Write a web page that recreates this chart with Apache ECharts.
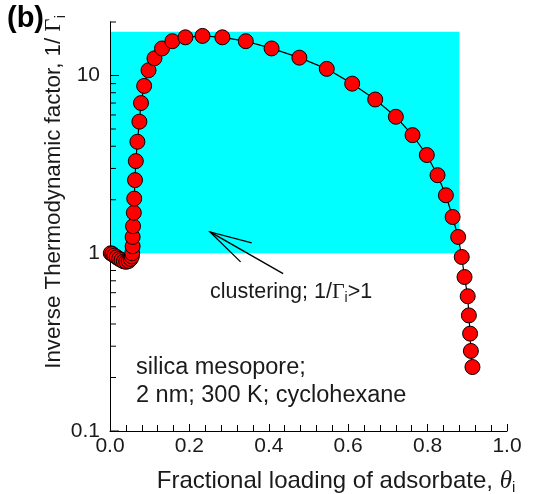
<!DOCTYPE html>
<html>
<head>
<meta charset="utf-8">
<script src="https://cdn.jsdelivr.net/npm/echarts@6/dist/echarts.min.js"></script>
<style>
html, body { margin: 0; padding: 0; background: #fff; }
#chart { width: 539px; height: 494px; }
</style>
</head>
<body>
<div id="chart"></div>
<script>
// fractional loading, theta_i
var loading = [0.002, 0.006, 0.011, 0.017, 0.023, 0.029, 0.035, 0.041, 0.047, 0.052, 0.055,
    0.056, 0.057, 0.057, 0.058, 0.060, 0.061, 0.063, 0.065, 0.069, 0.074, 0.078, 0.086,
    0.097, 0.112, 0.131, 0.157, 0.190, 0.233, 0.283, 0.342, 0.407, 0.477, 0.546, 0.610,
    0.668, 0.720, 0.762, 0.798, 0.825, 0.846, 0.863, 0.877, 0.886, 0.893, 0.901, 0.904,
    0.907, 0.909, 0.913];
// inverse thermodynamic factor, 1/Gamma_i
var invGamma = [1.00, 0.99, 0.97, 0.95, 0.93, 0.915, 0.90, 0.895, 0.905, 0.93, 0.96,
    1.00, 1.095, 1.235, 1.42, 1.69, 2.03, 2.58, 3.30, 4.24, 5.50, 7.0, 8.74,
    10.7, 12.5, 14.2, 15.6, 16.4, 16.7, 16.4, 15.6, 14.2, 12.6, 10.9, 9.0,
    7.33, 5.86, 4.62, 3.57, 2.75, 2.12, 1.60, 1.235, 0.953, 0.735, 0.573, 0.447,
    0.353, 0.282, 0.229];

var yMajorTicks = [0.1, 1, 10];
var yMinorTicks = [0.2, 0.3, 0.4, 0.5, 0.6, 0.7, 0.8, 0.9, 2, 3, 4, 5, 6, 7, 8, 9, 20];

// shaded clustering region (x0, y0, x1, y1)
var clusterBox = [0, 1, 0.88, 17.6];
// arrow: tail -> tip, and two barbs
var arrowShaft = [[0.436, 0.768], [0.252, 1.318]];
var arrowBarbs = [[0.357, 1.143], [0.252, 1.318], [0.329, 0.894]];

var FONT = 'Liberation Sans';
var chart = echarts.init(document.getElementById('chart'));

var points = loading.map(function (x, i) { return [x, invGamma[i]]; });
var tickData = yMajorTicks.map(function (v) { return [0, v, 1]; })
    .concat(yMinorTicks.map(function (v) { return [0, v, 0]; }));

var option = {
    animation: false,
    grid: { left: 110, right: 32, top: 22, bottom: 63 },
    xAxis: {
        type: 'value',
        min: 0,
        max: 1,
        interval: 0.2,
        z: 2,
        axisLine: { lineStyle: { color: '#000', width: 1 } },
        axisTick: { inside: true, length: 7, lineStyle: { color: '#000' } },
        minorTick: { show: true, splitNumber: 5, length: 6, lineStyle: { color: '#000' } },
        splitLine: { show: false },
        axisLabel: {
            fontFamily: FONT, fontSize: 21, color: '#1a1a1a', margin: 5,
            formatter: function (v) { return v.toFixed(1); }
        }
    },
    yAxis: {
        type: 'log',
        logBase: 10,
        min: 0.1,
        max: 20,
        z: 2,
        axisLine: { show: true, lineStyle: { color: '#000', width: 1 } },
        axisTick: { show: false },
        splitLine: { show: false },
        axisLabel: {
            fontFamily: FONT, fontSize: 21, color: '#1a1a1a', margin: 10,
            formatter: function (v) {
                var l = Math.log(v) / Math.LN10;
                var r = Math.round(l);
                if (Math.abs(l - r) > 1e-6) return '';
                return r < 0 ? Math.pow(10, r).toFixed(-r) : String(Math.pow(10, r));
            }
        }
    },
    series: [
        {
            type: 'custom',
            z: 1,
            silent: true,
            clip: false,
            data: [clusterBox],
            renderItem: function (params, api) {
                var p0 = api.coord([api.value(0), api.value(1)]);
                var p1 = api.coord([api.value(2), api.value(3)]);
                return {
                    type: 'rect',
                    shape: { x: p0[0], y: p1[1], width: p1[0] - p0[0], height: p0[1] - p1[1] },
                    style: { fill: '#00ffff' }
                };
            }
        },
        {
            type: 'custom',
            z: 4,
            silent: true,
            clip: false,
            data: tickData,
            renderItem: function (params, api) {
                var p = api.coord([api.value(0), api.value(1)]);
                var len = api.value(2) ? 9 : 6;
                return {
                    type: 'line',
                    shape: { x1: p[0], y1: p[1], x2: p[0] + len, y2: p[1] },
                    style: { stroke: '#000', lineWidth: 1 }
                };
            }
        },
        {
            type: 'custom',
            z: 4,
            silent: true,
            clip: false,
            data: [0, 1],
            renderItem: function (params, api) {
                var pts = (params.dataIndex === 0 ? arrowShaft : arrowBarbs).map(function (d) {
                    return api.coord(d);
                });
                return {
                    type: 'polyline',
                    shape: { points: pts },
                    style: { stroke: '#000', lineWidth: 1.3, fill: null }
                };
            }
        },
        {
            type: 'line',
            z: 5,
            data: points,
            symbol: 'circle',
            symbolSize: 15,
            itemStyle: { color: '#ff0000', borderColor: '#000', borderWidth: 1 },
            lineStyle: { color: '#000', width: 1.2 }
        }
    ],
    graphic: [
        {
            type: 'text', left: 7, top: 4,
            style: { text: '(b)', font: 'bold 29px ' + FONT, fill: '#000' }
        },
        {
            type: 'text', x: 54, y: 192, rotation: Math.PI / 2,
            style: {
                text: '{t|Inverse Thermodynamic factor, 1/ }{g|Γ}{s|i}',
                align: 'center', verticalAlign: 'middle',
                rich: {
                    t: { fontFamily: FONT, fontSize: 22.3, fill: '#1a1a1a' },
                    g: { fontFamily: 'Liberation Serif', fontSize: 23, fill: '#1a1a1a' },
                    s: { fontFamily: FONT, fontSize: 14, fill: '#1a1a1a', padding: [14, 0, 0, 0] }
                }
            }
        },
        {
            type: 'text', x: 336, y: 481,
            style: {
                text: '{t|Fractional loading of adsorbate, }{g|θ}{s|i}',
                align: 'center', verticalAlign: 'middle',
                rich: {
                    t: { fontFamily: FONT, fontSize: 24, fill: '#1a1a1a' },
                    g: { fontFamily: 'Liberation Serif', fontStyle: 'italic', fontSize: 25, fill: '#1a1a1a' },
                    s: { fontFamily: FONT, fontSize: 15, fill: '#1a1a1a', padding: [14, 0, 0, 0] }
                }
            }
        },
        {
            type: 'text', x: 210, y: 292,
            style: {
                text: '{t|clustering; 1/}{g|Γ}{s|i}{t|>1}',
                align: 'left', verticalAlign: 'middle',
                rich: {
                    t: { fontFamily: FONT, fontSize: 21.5, fill: '#1a1a1a' },
                    g: { fontFamily: 'Liberation Serif', fontSize: 22, fill: '#1a1a1a' },
                    s: { fontFamily: FONT, fontSize: 14, fill: '#1a1a1a', padding: [13, 0, 0, 0] }
                }
            }
        },
        {
            type: 'text', x: 136, y: 368,
            style: { text: 'silica mesopore;', font: '23.5px ' + FONT, fill: '#1a1a1a', verticalAlign: 'middle' }
        },
        {
            type: 'text', x: 136, y: 396,
            style: { text: '2 nm; 300 K; cyclohexane', font: '23.5px ' + FONT, fill: '#1a1a1a', verticalAlign: 'middle' }
        }
    ]
};

chart.setOption(option);
</script>
</body>
</html>
